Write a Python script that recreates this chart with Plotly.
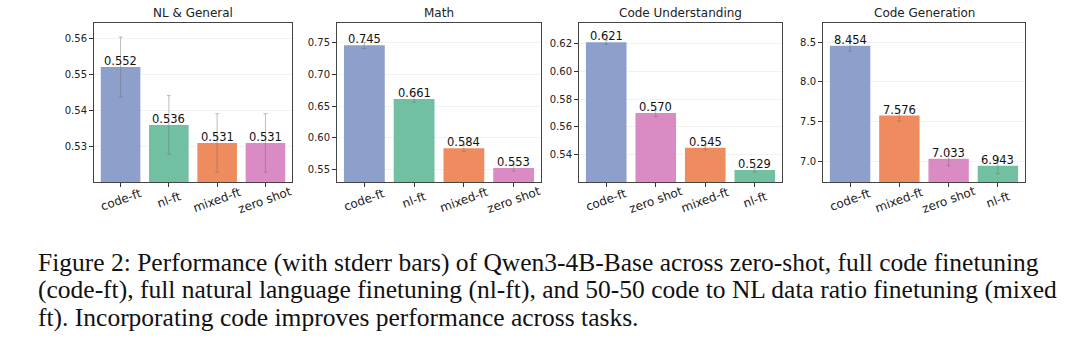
import plotly.graph_objects as go

# ---- data ----
titles = ["NL & General", "Math", "Code Understanding", "Code Generation"]

nl_cats = ["code-ft", "nl-ft", "mixed-ft", "zero shot"]
nl_vals = [0.552, 0.536, 0.531, 0.531]
nl_err = [0.0083, 0.0081, 0.0081, 0.0081]

math_cats = ["code-ft", "nl-ft", "mixed-ft", "zero shot"]
math_vals = [0.745, 0.661, 0.584, 0.553]
math_err = [0.005, 0.005, 0.005, 0.005]

cu_cats = ["code-ft", "zero shot", "mixed-ft", "nl-ft"]
cu_vals = [0.621, 0.570, 0.545, 0.529]
cu_err = [0.0015, 0.0025, 0.0015, 0.0015]

cg_cats = ["code-ft", "mixed-ft", "zero shot", "nl-ft"]
cg_vals = [8.454, 7.576, 7.033, 6.943]
cg_err = [0.07, 0.07, 0.09, 0.10]

y_ranges = [[0.5202, 0.5642], [0.531, 0.780], [0.5204, 0.6348], [6.74, 8.739]]
y_ticks = [[0.53, 0.54, 0.55, 0.56], [0.55, 0.60, 0.65, 0.70, 0.75],
           [0.54, 0.56, 0.58, 0.60, 0.62], [7.0, 7.5, 8.0, 8.5]]
y_ticktext = [["0.53", "0.54", "0.55", "0.56"],
              ["0.55", "0.60", "0.65", "0.70", "0.75"],
              ["0.54", "0.56", "0.58", "0.60", "0.62"],
              ["7.0", "7.5", "8.0", "8.5"]]

caption_lines = [
    "Figure 2: Performance (with stderr bars) of Qwen3-4B-Base across zero-shot, full code finetuning",
    "(code-ft), full natural language finetuning (nl-ft), and 50-50 code to NL data ratio finetuning (mixed",
    "ft). Incorporating code improves performance across tasks.",
]

colors = {"code-ft": "#8d9fcb", "nl-ft": "#72c0a2", "mixed-ft": "#ee8c5f", "zero shot": "#da8bc3"}

panels = [(nl_cats, nl_vals, nl_err), (math_cats, math_vals, math_err),
          (cu_cats, cu_vals, cu_err), (cg_cats, cg_vals, cg_err)]

W, H = 1080, 360
x_px = [(94, 292), (337, 541), (579, 782), (823, 1025)]
y_px = (23, 182)

fig = go.Figure()
layout = dict(width=W, height=H, margin=dict(l=0, r=0, t=0, b=0),
              paper_bgcolor="white", plot_bgcolor="white", showlegend=False,
              bargap=0.18, font=dict(family="DejaVu Sans", color="#222"))
annotations = []
for i, (cats, vals, errs) in enumerate(panels):
    xa = "x" if i == 0 else f"x{i+1}"
    ya = "y" if i == 0 else f"y{i+1}"
    fig.add_trace(go.Bar(
        x=cats, y=vals, xaxis=xa, yaxis=ya,
        marker=dict(color=[colors[c] for c in cats], line=dict(width=0)),
        error_y=dict(type="data", array=errs, color="rgba(110,110,110,0.45)", thickness=1, width=2),
        cliponaxis=False,
    ))
    dom_x = [x_px[i][0] / W, x_px[i][1] / W]
    dom_y = [1 - y_px[1] / H, 1 - y_px[0] / H]
    kx = "xaxis" if i == 0 else f"xaxis{i+1}"
    ky = "yaxis" if i == 0 else f"yaxis{i+1}"
    layout[kx] = dict(domain=dom_x, anchor=ya, type="category", range=[-0.55, 3.55],
                      ticks="outside", ticklen=4, tickcolor="#333", showticklabels=False,
                      showline=True, linecolor="#444", linewidth=1, mirror=True,
                      showgrid=False)
    layout[ky] = dict(domain=dom_y, anchor=xa, range=y_ranges[i],
                      tickvals=y_ticks[i], ticktext=y_ticktext[i],
                      ticks="outside", ticklen=4, tickcolor="#333",
                      tickfont=dict(size=10, color="#222"),
                      showline=True, linecolor="#444", linewidth=1, mirror=True,
                      showgrid=True, gridcolor="#f2f2f2", gridwidth=1, zeroline=False)
    annotations.append(dict(text=titles[i], x=(dom_x[0] + dom_x[1]) / 2, y=1 - 13 / H,
                            xref="paper", yref="paper", showarrow=False,
                            font=dict(size=12, color="#222", family="DejaVu Sans"),
                            xanchor="center", yanchor="middle"))
    for c, v in zip(cats, vals):
        annotations.append(dict(text=f"{v:.3f}", x=c, y=v, xref=xa, yref=ya,
                                showarrow=False, xanchor="center", yanchor="bottom",
                                yshift=-3, font=dict(size=11.5, color="#111", family="DejaVu Sans")))
        annotations.append(dict(text=c, x=c, y=1 - 200 / H, xref=xa, yref="paper",
                                showarrow=False, xanchor="center", yanchor="middle",
                                textangle=-20, font=dict(size=12, color="#222", family="DejaVu Sans")))

for k, line in enumerate(caption_lines):
    annotations.append(dict(text=line, x=36 / W, y=1 - (262 + 27.5 * k) / H,
                            xref="paper", yref="paper", showarrow=False,
                            xanchor="left", yanchor="middle",
                            font=dict(size=25.5, color="#111", family="Liberation Serif")))
layout["annotations"] = annotations
fig.update_layout(**layout)
fig.write_html("out.html", config={"displayModeBar": False},
               post_script="document.body.style.margin='0';")
